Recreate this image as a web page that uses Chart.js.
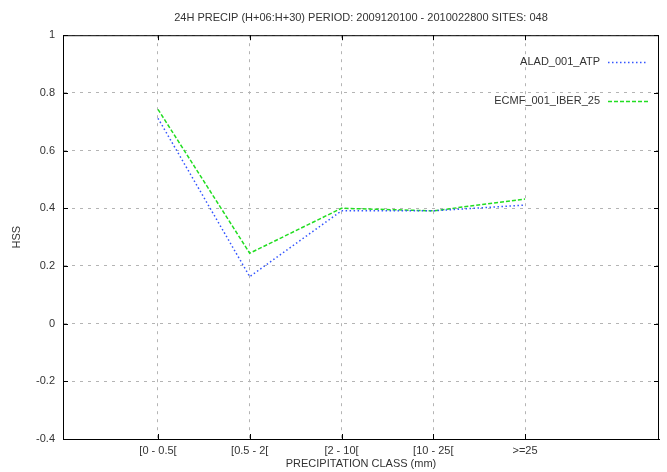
<!DOCTYPE html>
<html>
<head>
<meta charset="utf-8">
<script src="https://cdn.jsdelivr.net/npm/chart.js@4.4.1/dist/chart.umd.min.js"></script>
<style>
  html, body { margin: 0; padding: 0; background: #fff; }
  #wrap { width: 667px; height: 472px; }
</style>
</head>
<body>
<div id="wrap"><canvas id="hssChart" width="667" height="472"></canvas></div>
<script>
// precipitation classes and HSS scores
var classes = ['[0 - 0.5[', '[0.5 - 2[', '[2 - 10[', '[10 - 25[', '>=25'];
var aladHss = [0.712, 0.163, 0.391, 0.391, 0.411];
var ecmfHss = [0.743, 0.244, 0.400, 0.391, 0.432];
var yTicks = [1, 0.8, 0.6, 0.4, 0.2, 0, -0.2, -0.4];

var textColor = '#333';
var fontFamily = '"Liberation Sans", Arial, sans-serif';

function toPoints(vals) {
  return vals.map(function (v, i) { return { x: i + 1, y: v }; });
}

// frame, inward ticks and the legend box in the upper right
var framePlugin = {
  id: 'frame',
  afterDraw: function (chart) {
    var c = chart.ctx, a = chart.chartArea;
    var xs = chart.scales.x, ys = chart.scales.y;
    c.save();
    c.strokeStyle = '#000';
    c.lineWidth = 1;
    c.strokeRect(a.left + 0.5, a.top + 0.5, a.right - a.left - 1, a.bottom - a.top);
    c.beginPath();
    classes.forEach(function (cl, i) {
      var px = Math.round(xs.getPixelForValue(i + 1)) + 0.5;
      c.moveTo(px, a.bottom); c.lineTo(px, a.bottom - 5);
      c.moveTo(px, a.top); c.lineTo(px, a.top + 5);
    });
    yTicks.forEach(function (t) {
      var py = Math.round(ys.getPixelForValue(t)) + 0.5;
      c.moveTo(a.left, py); c.lineTo(a.left + 5, py);
      c.moveTo(a.right, py); c.lineTo(a.right - 5, py);
    });
    c.stroke();

    c.font = '11px ' + fontFamily;
    c.textAlign = 'right';
    c.textBaseline = 'middle';
    chart.data.datasets.forEach(function (ds, i) {
      var y = 62 + i * 39;
      c.fillStyle = textColor;
      c.fillText(ds.label, 600, y);
      c.strokeStyle = ds.borderColor;
      c.lineWidth = ds.borderWidth;
      c.setLineDash(ds.borderDash);
      c.beginPath();
      c.moveTo(608, y + 0.5); c.lineTo(648, y + 0.5);
      c.stroke();
    });
    c.restore();
  }
};

var ctx = document.getElementById('hssChart').getContext('2d');
var hssChart = new Chart(ctx, {
  type: 'line',
  data: {
    datasets: [{
      label: 'ALAD_001_ATP',
      data: toPoints(aladHss),
      borderColor: '#3355ff',
      borderWidth: 1.5,
      borderDash: [1.5, 2.5],
      pointRadius: 0,
      tension: 0
    }, {
      label: 'ECMF_001_IBER_25',
      data: toPoints(ecmfHss),
      borderColor: '#22dd22',
      borderWidth: 1.5,
      borderDash: [4, 2],
      pointRadius: 0,
      tension: 0
    }]
  },
  options: {
    responsive: false,
    animation: false,
    layout: { padding: { left: 0, right: 8, top: 0, bottom: 0 } },
    plugins: {
      legend: { display: false },
      tooltip: { enabled: false },
      title: {
        display: true,
        fullSize: false,
        text: '24H PRECIP (H+06:H+30) PERIOD: 2009120100 - 2010022800 SITES: 048',
        color: textColor,
        font: { family: fontFamily, size: 11, weight: 'normal' },
        padding: { top: 11, bottom: 11 }
      }
    },
    scales: {
      x: {
        type: 'linear',
        min: -0.035,
        max: 6.46,
        afterBuildTicks: function (scale) {
          scale.ticks = classes.map(function (cl, i) { return { value: i + 1 }; });
        },
        afterFit: function (scale) { scale.height = 33; },
        ticks: {
          autoSkip: false,
          maxRotation: 0,
          padding: 5,
          color: textColor,
          font: { family: fontFamily, size: 11 },
          callback: function (v) { return classes[v - 1]; }
        },
        grid: { color: '#b4b4b4', lineWidth: 1, drawTicks: false },
        border: { display: true, color: '#000', width: 1, dash: [3, 5] },
        title: {
          display: true,
          text: 'PRECIPITATION CLASS (mm)',
          color: textColor,
          font: { family: fontFamily, size: 11 },
          padding: { top: 0, bottom: 1 }
        }
      },
      y: {
        min: -0.4,
        max: 1,
        afterBuildTicks: function (scale) {
          scale.ticks = yTicks.map(function (t) { return { value: t }; });
        },
        afterFit: function (scale) { scale.width = 63; },
        ticks: {
          padding: 8,
          color: textColor,
          font: { family: fontFamily, size: 11 },
          callback: function (v) { return String(Math.round(v * 10) / 10); }
        },
        grid: { color: '#b4b4b4', lineWidth: 1, drawTicks: false },
        border: { display: true, color: '#000', width: 1, dash: [3, 5] },
        title: {
          display: true,
          text: 'HSS',
          color: textColor,
          font: { family: fontFamily, size: 11 },
          padding: { top: 10, bottom: 0 }
        }
      }
    }
  },
  plugins: [framePlugin]
});
</script>
</body>
</html>
